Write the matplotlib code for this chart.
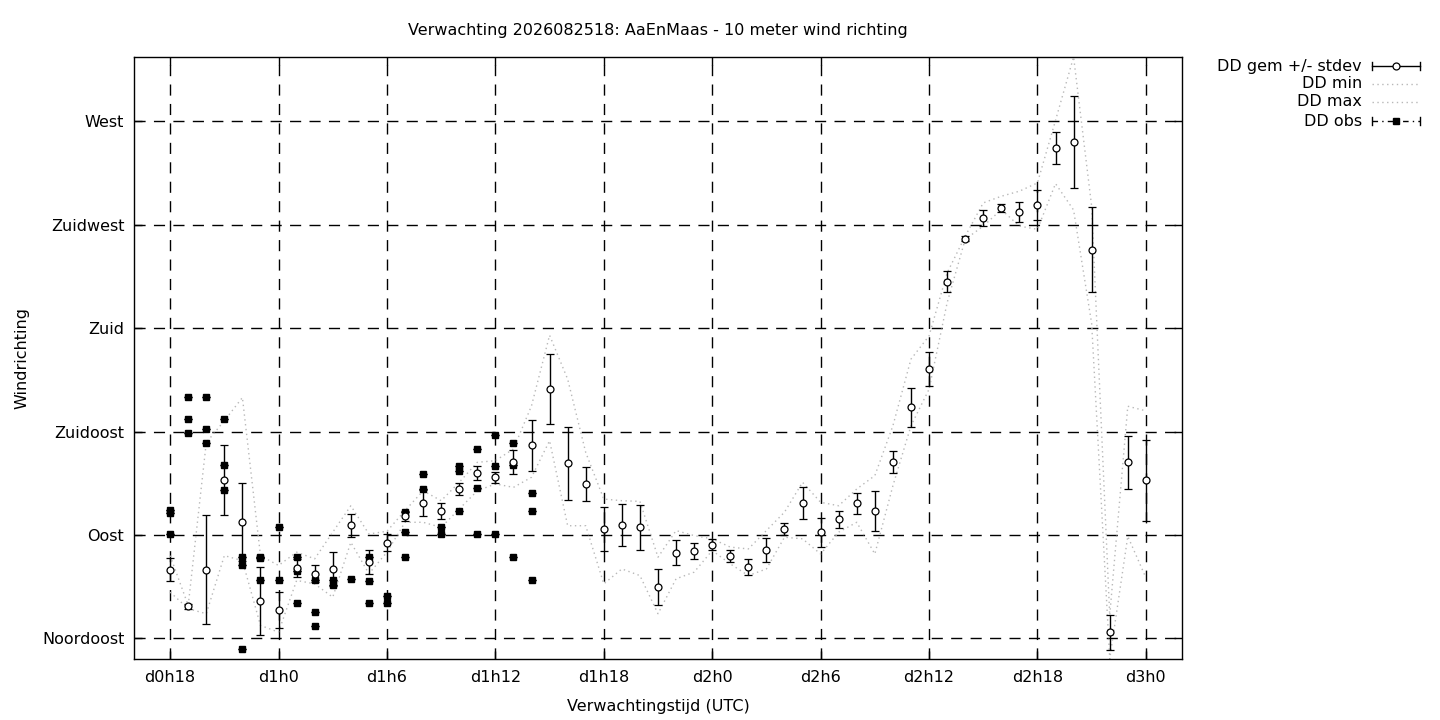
import matplotlib
matplotlib.use('Agg')
import matplotlib.pyplot as plt
from matplotlib.lines import Line2D

plt.rcParams['font.family'] = ['DejaVu Sans']
plt.rcParams['lines.scale_dashes'] = False

# forecast hours since d0h0
hours = [18, 19, 20, 21, 22, 23, 24, 25, 26, 27, 28, 29, 30, 31, 32, 33, 34, 35, 36,
         37, 38, 39, 40, 41, 42, 43, 44, 45, 46, 47, 48, 49, 50, 51, 52, 53, 54, 55,
         56, 57, 58, 59, 60, 61, 62, 63, 64, 65, 66, 67, 68, 69, 70, 71, 72]

dd_gem = [74.8, 58.9, 74.8, 113.9, 95.5, 61.2, 57.4, 75.5, 73.0, 75.2, 94.3, 78.3,
          86.5, 98.2, 103.9, 100.3, 109.9, 116.8, 115.0, 121.6, 129.0, 153.4, 121.1,
          112.0, 92.5, 94.2, 93.3, 67.3, 82.2, 82.9, 85.8, 80.7, 76.0, 83.4, 92.5,
          103.8, 91.2, 96.8, 103.8, 100.3, 121.7, 145.6, 162.1, 200.2, 218.9, 228.0,
          232.3, 230.6, 233.7, 258.4, 261.0, 214.1, 47.7, 121.6, 113.8]

dd_std = [5.0, 1.0, 23.7, 15.4, 17.0, 14.8, 7.7, 4.0, 3.7, 7.4, 5.0, 5.2, 3.7, 2.0,
          5.5, 3.4, 2.6, 3.0, 2.3, 5.3, 11.0, 15.2, 16.0, 7.4, 9.7, 9.1, 9.8, 7.8, 5.4,
          3.5, 2.5, 2.7, 3.6, 5.2, 2.7, 7.0, 6.3, 3.6, 4.6, 8.7, 4.8, 8.5, 7.4, 4.6,
          1.0, 3.6, 1.7, 4.3, 6.5, 7.0, 20.2, 18.5, 7.6, 11.5, 17.6]

dd_min = [65.1, 57.9, 55.7, 81.0, 78.8, 50.6, 47.7, 70.2, 68.7, 62.9, 86.8, 73.1,
          82.5, 95.5, 95.5, 93.3, 101.3, 109.2, 112.2, 110.7, 115.1, 131.0, 94.0,
          94.0, 68.7, 75.2, 72.3, 55.7, 70.9, 73.8, 83.2, 77.4, 72.3, 75.2, 89.0,
          88.3, 81.7, 91.2, 95.5, 81.7, 111.4, 137.5, 153.4, 191.0, 218.6, 224.4,
          231.6, 224.4, 223.0, 242.9, 231.4, 182.0, 36.0, 89.4, 71.4]

dd_max = [81.0, 59.3, 130.2, 139.7, 149.8, 81.0, 76.7, 82.5, 79.6, 91.2, 102.7, 90.4,
          91.6, 100.6, 109.2, 104.9, 112.9, 121.6, 122.3, 127.4, 146.2, 176.9, 157.8,
          125.9, 105.6, 104.9, 104.6, 80.3, 91.9, 89.7, 88.3, 84.7, 83.9, 91.9, 99.9,
          112.9, 104.2, 102.7, 110.0, 115.8, 137.5, 166.5, 176.6, 204.0, 220.0, 234.5,
          237.4, 239.6, 243.2, 270.4, 298.0, 233.0, 55.0, 146.0, 144.0]

obs_h = [18, 18, 18, 19, 19, 19, 20, 20, 20, 21, 21, 21, 22, 22, 22, 23, 23, 23,
         24, 24, 25, 25, 25, 26, 26, 26, 27, 27, 28, 29, 29, 29, 30, 30, 31, 31, 31,
         32, 32, 33, 33, 34, 34, 34, 35, 35, 35, 36, 36, 36, 37, 37, 37, 38, 38, 38]
obs_dd = [101.0, 99.5, 90.4, 150.2, 140.4, 134.2, 150.2, 136.3, 130.2, 140.4, 120.4,
          109.4, 80.3, 76.7, 40.5, 80.6, 79.9, 70.4, 93.3, 70.4, 80.3, 74.1, 60.5,
          70.4, 56.4, 50.3, 70.4, 68.3, 70.9, 80.3, 69.9, 60.5, 63.4, 60.5, 100.1,
          91.2, 80.3, 116.5, 110.0, 93.3, 90.4, 120.1, 117.9, 100.3, 127.4, 110.3,
          90.4, 133.4, 120.1, 90.4, 130.2, 120.4, 80.3, 108.2, 100.3, 70.3]

x_ticks = [18, 24, 30, 36, 42, 48, 54, 60, 66, 72]
x_labels = ['d0h18', 'd1h0', 'd1h6', 'd1h12', 'd1h18', 'd2h0', 'd2h6', 'd2h12', 'd2h18', 'd3h0']
y_ticks = [45, 90, 135, 180, 225, 270]
y_labels = ['Noordoost', 'Oost', 'Zuidoost', 'Zuid', 'Zuidwest', 'West']

W, H = 1440, 720
FS = 11.5
fig = plt.figure(figsize=(14.4, 7.2), dpi=100)
ax = fig.add_axes([134 / W, 1 - 659 / H, 1048 / W, 602 / H])

grey = '#b8b8b8'
ax.plot(hours, dd_min, linestyle=(0, (1, 2.5)), color=grey, lw=1.0, zorder=2)
ax.plot(hours, dd_max, linestyle=(0, (1, 2.5)), color=grey, lw=1.0, zorder=2)
ax.errorbar(hours, dd_gem, yerr=dd_std, fmt='o', ms=5, mfc='white', mec='black',
            mew=0.9, ecolor='black', elinewidth=1.0, capsize=3, capthick=1.0, zorder=4)
ax.errorbar(obs_h, obs_dd, yerr=0, fmt='s', ms=4.5, color='black', ecolor='black',
            elinewidth=1.0, capsize=3, capthick=1.0, zorder=3)

lo = min(min(dd_min), min(obs_dd))
hi = max(max(dd_max), max(obs_dd))
ax.set_xlim(16, 74)
ax.set_ylim(lo, hi)

ax.set_xticks(x_ticks)
ax.set_xticklabels(x_labels)
ax.set_yticks(y_ticks)
ax.set_yticklabels(y_labels)
ax.tick_params(direction='in', length=6, width=1, top=True, right=True, labelsize=FS)
ax.tick_params(axis='x', pad=8)
ax.tick_params(axis='y', pad=7)
ax.grid(True, color='black', linestyle=(0, (8, 6)), lw=1.0)
for s in ax.spines.values():
    s.set_linewidth(1.0)

ax.set_xlabel('Verwachtingstijd (UTC)', fontsize=FS, labelpad=10)
ax.set_ylabel('Windrichting', fontsize=FS, labelpad=9)
fig.text(658 / W, 1 - 30 / H, 'Verwachting 2026082518: AaEnMaas - 10 meter wind richting',
         ha='center', va='center', fontsize=FS)

# legend outside, gnuplot style
def fx(px):
    return px / W

def fy(py):
    return 1 - py / H

entries = ['DD gem +/- stdev', 'DD min', 'DD max', 'DD obs']
rows = [66, 84, 102, 121]
x0, x1, xm = 1372, 1420, 1396
for name, yy in zip(entries, rows):
    fig.text(fx(1362), fy(yy), name, ha='right', va='center', fontsize=FS)
for yy, style in [(66, '-'), (121, (0, (4, 3, 1, 3)))]:
    fig.add_artist(Line2D([fx(x0), fx(x1)], [fy(yy), fy(yy)], color='black',
                          lw=1.0, linestyle=style, transform=fig.transFigure))
    for xe in (x0, x1):
        fig.add_artist(Line2D([fx(xe), fx(xe)], [fy(yy - 4), fy(yy + 4)], color='black',
                              lw=1.0, transform=fig.transFigure))
fig.add_artist(Line2D([fx(xm)], [fy(66)], marker='o', ms=5, mfc='white', mec='black',
                      mew=0.9, transform=fig.transFigure))
fig.add_artist(Line2D([fx(xm)], [fy(121)], marker='s', ms=4.5, color='black',
                      transform=fig.transFigure))
for yy in (84, 102):
    fig.add_artist(Line2D([fx(x0), fx(x1)], [fy(yy), fy(yy)], color=grey, lw=1.0,
                          linestyle=(0, (1, 2.5)), transform=fig.transFigure))

fig.savefig('out.png', dpi=100)
